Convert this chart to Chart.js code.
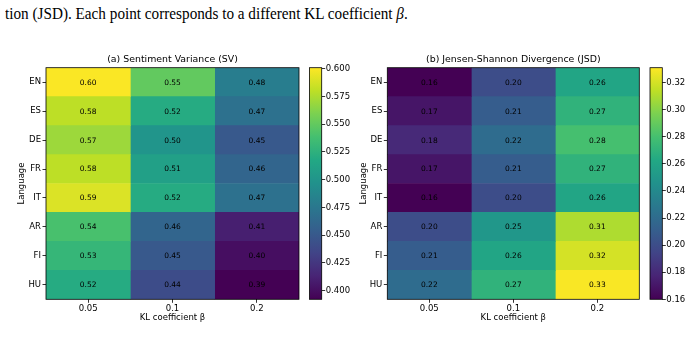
<!DOCTYPE html>
<html>
<head>
<meta charset="utf-8">
<script src="https://cdn.jsdelivr.net/npm/chart.js@4.4.1/dist/chart.umd.min.js"></script>
<style>
html, body { margin: 0; padding: 0; background: #fff; width: 691px; height: 361px; overflow: hidden; }
.caption { position: absolute; left: 5px; top: 4px; font-family: "Liberation Serif", serif; font-size: 16.5px; white-space: nowrap; color: #000; transform: scaleX(0.922); transform-origin: 0 0; }
canvas { position: absolute; }
</style>
</head>
<body>
<div class="caption">tion (JSD). Each point corresponds to a different KL coefficient <i>β</i>.</div>
<canvas id="svHeat" width="310" height="280" style="left:0;top:50px"></canvas>
<canvas id="svBar" width="60" height="280" style="left:300px;top:50px"></canvas>
<canvas id="jsdHeat" width="310" height="280" style="left:341px;top:50px"></canvas>
<canvas id="jsdBar" width="51" height="280" style="left:640px;top:50px"></canvas>
<script>
const languages = ["EN", "ES", "DE", "FR", "IT", "AR", "FI", "HU"];
const betas = ["0.05", "0.1", "0.2"];

// one array per KL coefficient column, rows in language order
const svBeta005 = [0.60, 0.58, 0.57, 0.58, 0.59, 0.54, 0.53, 0.52];
const svBeta01 = [0.55, 0.52, 0.50, 0.51, 0.52, 0.46, 0.45, 0.44];
const svBeta02 = [0.48, 0.47, 0.45, 0.46, 0.47, 0.41, 0.40, 0.39];
const jsdBeta005 = [0.16, 0.17, 0.18, 0.17, 0.16, 0.20, 0.21, 0.22];
const jsdBeta01 = [0.20, 0.21, 0.22, 0.21, 0.20, 0.25, 0.26, 0.27];
const jsdBeta02 = [0.26, 0.27, 0.28, 0.27, 0.26, 0.31, 0.32, 0.33];

const svRange = [0.392, 0.601];
const jsdRange = [0.16, 0.331];
const svTicks = [0.400, 0.425, 0.450, 0.475, 0.500, 0.525, 0.550, 0.575, 0.600];
const jsdTicks = [0.16, 0.18, 0.20, 0.22, 0.24, 0.26, 0.28, 0.30, 0.32];

Chart.defaults.font.family = "'DejaVu Sans', sans-serif";
Chart.defaults.color = "#000";

const viridisStops = ["#440154", "#482475", "#414487", "#355f8d", "#2a788e", "#21918c",
	"#22a884", "#44bf70", "#7ad151", "#bddf26", "#fde725"];

function hexRgb(h) {
	return [1, 3, 5].map(i => parseInt(h.slice(i, i + 2), 16));
}

function viridis(t) {
	t = Math.max(0, Math.min(1, t));
	const p = t * (viridisStops.length - 1);
	const i = Math.min(Math.floor(p), viridisStops.length - 2);
	const f = p - i;
	const a = hexRgb(viridisStops[i]), b = hexRgb(viridisStops[i + 1]);
	const c = a.map((v, k) => Math.round(v + (b[k] - v) * f));
	return `rgb(${c[0]},${c[1]},${c[2]})`;
}

const framePlugin = {
	id: "frame",
	afterDatasetsDraw(chart) {
		const { ctx, chartArea: a } = chart;
		ctx.save();
		ctx.strokeStyle = "#000";
		ctx.lineWidth = 0.8;
		ctx.strokeRect(a.left, a.top, a.right - a.left, a.bottom - a.top);
		const title = chart.options.plugins.frame && chart.options.plugins.frame.title;
		if (title) {
			ctx.fillStyle = "#000";
			ctx.font = "9.4px 'DejaVu Sans'";
			ctx.textAlign = "center";
			ctx.textBaseline = "middle";
			ctx.fillText(title, (a.left + a.right) / 2, a.top - 7.7);
		}
		ctx.restore();
	},
};

const cellLabels = {
	id: "cellLabels",
	afterDatasetsDraw(chart) {
		const ctx = chart.ctx;
		ctx.save();
		ctx.fillStyle = "#000";
		ctx.font = "7.5px 'DejaVu Sans'";
		ctx.textAlign = "center";
		ctx.textBaseline = "middle";
		chart.data.datasets.forEach((ds, di) => {
			chart.getDatasetMeta(di).data.forEach((bar, i) => {
				const { x, y, base } = bar.getProps(["x", "y", "base"], true);
				ctx.fillText(ds.values[i].toFixed(2), (x + base) / 2, y + 0.5);
			});
		});
		ctx.restore();
	},
};

function heatmap(id, columns, range, title, pos) {
	new Chart(document.getElementById(id), {
		type: "bar",
		data: {
			labels: languages,
			datasets: columns.map((col, i) => ({
				label: betas[i],
				data: col.map(() => 1),
				values: col,
				backgroundColor: col.map(v => viridis((v - range[0]) / (range[1] - range[0]))),
				borderWidth: 0,
				barPercentage: 1,
				categoryPercentage: 1,
			})),
		},
		options: {
			indexAxis: "y",
			responsive: false,
			animation: false,
			layout: { padding: { top: pos.top, right: pos.right, left: 0, bottom: 0 } },
			plugins: { legend: { display: false }, tooltip: { enabled: false }, frame: { title } },
			scales: {
				x: {
					type: "linear", stacked: true, min: 0, max: 3,
					afterBuildTicks: s => { s.ticks = betas.map((b, i) => ({ value: i + 0.5 })); },
					afterFit: s => { s.height = pos.xAxisH; },
					ticks: { callback: (v, i) => betas[i], font: { size: 8.5 }, padding: 0.5, maxRotation: 0 },
					grid: { drawOnChartArea: false, tickLength: 3.5, tickColor: "#000", tickWidth: 0.8 },
					border: { display: false },
					title: { display: true, text: "KL coefficient β", font: { size: 8.5 }, padding: { top: 0, bottom: 7.6 } },
				},
				y: {
					stacked: true,
					afterFit: s => { s.width = pos.left; },
					ticks: { font: { size: 8.5 }, padding: 1.5 },
					grid: { offset: false, drawOnChartArea: false, tickLength: 3.5, tickColor: "#000", tickWidth: 0.8 },
					border: { display: false },
					title: { display: true, text: "Language", font: { size: 8.5 }, padding: { top: pos.yTitle, bottom: 0 } },
				},
			},
		},
		plugins: [framePlugin, cellLabels],
	});
}

function colorbar(id, range, ticks, digits, pos) {
	new Chart(document.getElementById(id), {
		type: "bar",
		data: {
			labels: [""],
			datasets: [{
				data: [range],
				backgroundColor: c => {
					const area = c.chart.chartArea;
					if (!area) return viridisStops[0];
					const g = c.chart.ctx.createLinearGradient(0, area.bottom, 0, area.top);
					viridisStops.forEach((s, i) => g.addColorStop(i / (viridisStops.length - 1), s));
					return g;
				},
				borderWidth: 0,
				barPercentage: 1,
				categoryPercentage: 1,
			}],
		},
		options: {
			responsive: false,
			animation: false,
			layout: { padding: { left: pos.left, top: 17.7, bottom: 30.7, right: 0 } },
			plugins: { legend: { display: false }, tooltip: { enabled: false } },
			scales: {
				x: { display: false },
				y: {
					position: "right", min: range[0], max: range[1],
					afterBuildTicks: s => { s.ticks = ticks.map(v => ({ value: v })); },
					afterFit: s => { s.width = pos.axisW; },
					ticks: { callback: v => v.toFixed(digits), font: { size: 8.5 }, padding: 0.5 },
					grid: { drawOnChartArea: false, tickLength: 3.5, tickColor: "#000", tickWidth: 0.8 },
					border: { display: false },
				},
			},
		},
		plugins: [framePlugin],
	});
}

heatmap("svHeat", [svBeta005, svBeta01, svBeta02], svRange, "(a) Sentiment Variance (SV)",
	{ top: 17.7, right: 11, left: 46, xAxisH: 30.7, yTitle: 16.9 });
heatmap("jsdHeat", [jsdBeta005, jsdBeta01, jsdBeta02], jsdRange, "(b) Jensen-Shannon Divergence (JSD)",
	{ top: 17.7, right: 11.7, left: 46.3, xAxisH: 30.7, yTitle: 17.2 });
colorbar("svBar", svRange, svTicks, 3, { left: 9.5, axisW: 38.3 });
colorbar("jsdBar", jsdRange, jsdTicks, 2, { left: 10, axisW: 28.7 });
</script>
</body>
</html>
